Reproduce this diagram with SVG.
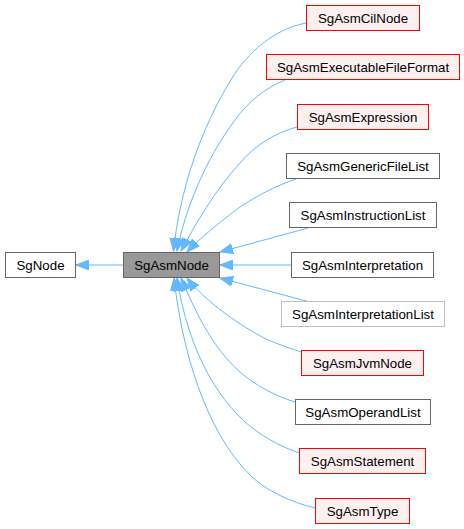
<svg xmlns="http://www.w3.org/2000/svg" width="464" height="529" viewBox="0 0 464 529">
<defs>
<style>
.n rect{stroke-width:1}
.g rect{fill:#ffffff;stroke:#666666}
.r rect{fill:#fff0f0;stroke:#ff0000}
.l rect{fill:#ffffff;stroke:#bfbfbf}
.c rect{fill:#999999;stroke:#666666}
text{font-family:"Liberation Sans",Arial,Helvetica,sans-serif;font-size:13.3px;fill:#000000;text-anchor:middle}
.e path{fill:none;stroke:#63b8ff;stroke-width:1}
</style>
<marker id="arr" markerUnits="userSpaceOnUse" markerWidth="14" markerHeight="11" refX="13" refY="5" orient="auto" viewBox="0 0 14 10">
<path d="M0,0 L13,5 L0,10 z" fill="#63b8ff" stroke="#63b8ff" stroke-width="1"/>
</marker>
</defs>
<rect width="464" height="529" fill="#ffffff"/>
<g id="edges" class="e">
<path d="M123,265 L76,265" marker-end="url(#arr)"/>
<path d="M306,23 C272,30 248,53 232,78 C200,130 180,190 173.5,251" marker-end="url(#arr)"/>
<path d="M285,80 C265,88 248,102 235,120 C205,160 185,210 177,251" marker-end="url(#arr)"/>
<path d="M297,127 C275,133 255,145 240,163 C215,190 195,225 181,251" marker-end="url(#arr)"/>
<path d="M296,179 C275,186 255,197 240,207 C220,222 200,238 187,252" marker-end="url(#arr)"/>
<path d="M308,228 L220,252" marker-end="url(#arr)"/>
<path d="M291,265 L220,265" marker-end="url(#arr)"/>
<path d="M310,302 L220,278" marker-end="url(#arr)"/>
<path d="M302,352 C285,347 265,340 250,330 C225,315 200,295 187,278" marker-end="url(#arr)"/>
<path d="M295,402 C275,396 255,385 240,372 C210,345 195,310 181,278" marker-end="url(#arr)"/>
<path d="M300,453 C280,447 260,435 245,422 C205,385 185,330 177,278" marker-end="url(#arr)"/>
<path d="M315,508 C290,502 265,490 250,475 C205,430 182,350 174,278" marker-end="url(#arr)"/>
</g>
<g id="SgNode" class="n g"><rect x="5.5" y="252.5" width="70" height="25"/><text x="40.5" y="269.5">SgNode</text></g>
<g id="SgAsmNode" class="n c"><rect x="123.5" y="252.5" width="96" height="25"/><text x="171.5" y="269.5">SgAsmNode</text></g>
<g id="SgAsmCilNode" class="n r"><rect x="306.5" y="5.5" width="113" height="25"/><text x="363" y="22.5">SgAsmCilNode</text></g>
<g id="SgAsmExecutableFileFormat" class="n r"><rect x="266.5" y="54.5" width="193" height="25"/><text x="363" y="71.5">SgAsmExecutableFileFormat</text></g>
<g id="SgAsmExpression" class="n r"><rect x="297.5" y="104.5" width="131" height="25"/><text x="363" y="121.5">SgAsmExpression</text></g>
<g id="SgAsmGenericFileList" class="n g"><rect x="286.5" y="153.5" width="153" height="25"/><text x="363" y="170.5">SgAsmGenericFileList</text></g>
<g id="SgAsmInstructionList" class="n g"><rect x="289.5" y="202.5" width="147" height="25"/><text x="363" y="219.5">SgAsmInstructionList</text></g>
<g id="SgAsmInterpretation" class="n g"><rect x="291.5" y="252.5" width="142" height="25"/><text x="362.5" y="269.5">SgAsmInterpretation</text></g>
<g id="SgAsmInterpretationList" class="n l"><rect x="281.5" y="301.5" width="163" height="25"/><text x="363" y="318.5">SgAsmInterpretationList</text></g>
<g id="SgAsmJvmNode" class="n r"><rect x="301.5" y="350.5" width="122" height="25"/><text x="362.5" y="367.5">SgAsmJvmNode</text></g>
<g id="SgAsmOperandList" class="n g"><rect x="295.5" y="399.5" width="135" height="25"/><text x="363" y="416.5">SgAsmOperandList</text></g>
<g id="SgAsmStatement" class="n r"><rect x="299.5" y="448.5" width="126" height="25"/><text x="362.5" y="465.5">SgAsmStatement</text></g>
<g id="SgAsmType" class="n r"><rect x="315.5" y="498.5" width="94" height="25"/><text x="362.5" y="515.5">SgAsmType</text></g>
</svg>
